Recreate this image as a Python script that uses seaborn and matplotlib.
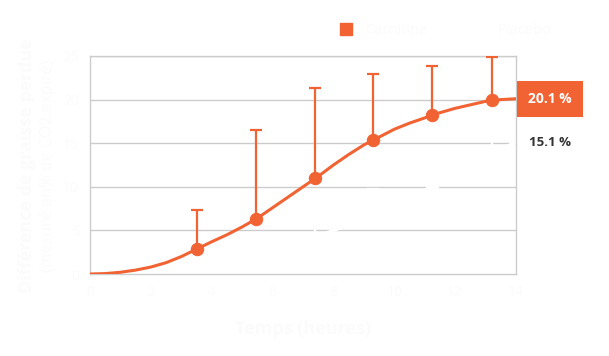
import numpy as np
import pandas as pd
import matplotlib
matplotlib.use("Agg")
import matplotlib.pyplot as plt
from matplotlib.lines import Line2D
import seaborn as sns

# measured points (hours, % CO2)
hours = [3.5, 5.45, 7.4, 9.3, 11.25, 13.2]
carnitine = [2.9, 6.3, 11.0, 15.4, 18.2, 20.0]
carnitine_err = [4.4, 10.2, 10.3, 7.5, 5.7, 4.9]
placebo = [0.9, 2.2, 4.0, 6.6, 10.0, 12.6]
placebo_err = [1.5, 2.5, 3.0, 3.2, 3.0, 3.0]

# fitted curves
curve_hours = [0, 0.5, 1, 1.5, 2, 2.5, 3, 3.5, 4, 4.5, 5, 5.5, 6, 6.5, 7,
               7.5, 8, 8.5, 9, 9.5, 10, 10.5, 11, 11.5, 12, 12.5, 13, 13.5, 14]
carnitine_curve = [0, 0.05, 0.2, 0.45, 0.8, 1.3, 2.0, 2.85, 3.7, 4.5, 5.4, 6.4, 7.6, 8.8, 10.0,
                   11.2, 12.5, 13.7, 14.8, 15.7, 16.6, 17.3, 17.9, 18.5, 19.0, 19.4, 19.8, 20.0, 20.1]
placebo_curve = [0, 0.05, 0.15, 0.25, 0.4, 0.6, 0.8, 0.9, 1.2, 1.5, 1.9, 2.3, 2.8, 3.3, 3.8,
                 4.4, 5.0, 5.6, 6.3, 7.1, 7.9, 8.7, 9.6, 10.6, 11.6, 12.6, 13.5, 14.4, 15.1]

x_ticks = [0, 2, 4, 6, 8, 10, 12, 14]
y_ticks = [0, 5, 10, 15, 20, 25]

orange = "#F26334"
faint = "#fbfbfb"

sns.set_style("white")
plt.rcParams['font.family'] = ['Open Sans', 'DejaVu Sans']

fig = plt.figure(figsize=(6.09, 3.56), dpi=100)
ax = fig.add_axes([0.1478, 0.2303, 0.6995, 0.6124])

curves = pd.DataFrame({'h': curve_hours, 'c': carnitine_curve, 'p': placebo_curve})
pts = pd.DataFrame({'h': hours, 'c': carnitine, 'p': placebo})

for yv in y_ticks[1:]:
    ax.axhline(yv, color="#cccccc", lw=1, zorder=0)

# placebo (white on white)
sns.lineplot(data=curves, x='h', y='p', ax=ax, color="white", lw=2.2, zorder=2)
ax.errorbar(hours, placebo, yerr=[np.zeros(6), placebo_err], fmt='none',
            ecolor="white", elinewidth=1.6, capsize=4, capthick=1.6, zorder=2)
sns.scatterplot(data=pts, x='h', y='p', ax=ax, color="white", s=80,
                edgecolor="white", zorder=3)

# carnitine
ax.errorbar(hours, carnitine, yerr=[np.zeros(6), carnitine_err], fmt='none',
            ecolor=orange, elinewidth=1.6, capsize=4, capthick=1.6, zorder=4)
sns.lineplot(data=curves, x='h', y='c', ax=ax, color=orange, lw=2.2, zorder=4)
sns.scatterplot(data=pts, x='h', y='c', ax=ax, color=orange, s=80,
                edgecolor=orange, zorder=5)

ax.set_xlim(0, 14)
ax.set_ylim(0, 25)
ax.set_xticks(x_ticks)
ax.set_yticks(y_ticks)
ax.tick_params(length=0, labelsize=10, labelcolor=faint, pad=8)
for s in ax.spines.values():
    s.set_color("#cccccc")
    s.set_linewidth(1)

ax.set_xlabel("Temps (heures)", fontsize=13, fontweight='bold', color=faint, labelpad=14)
ax.set_ylabel("")
fig.text(0.045, 0.535, "Différence de graisse perdue", rotation=90, ha='center', va='center',
         fontsize=13, fontweight='bold', color=faint)
fig.text(0.078, 0.535, "(mesuré en% de CO2 expiré)", rotation=90, ha='center', va='center',
         fontsize=11.5, color=faint)

# end labels
ax.annotate("20.1 %", xy=(1.0, carnitine_curve[-1]), xycoords=('axes fraction', 'data'),
            xytext=(34, 0), textcoords='offset pixels', ha='center', va='center',
            fontsize=10, fontweight='bold', color='white', annotation_clip=False,
            bbox=dict(boxstyle='square,pad=0.8', fc=orange, ec='none'))
ax.annotate("15.1 %", xy=(1.0, placebo_curve[-1]), xycoords=('axes fraction', 'data'),
            xytext=(34, 0), textcoords='offset pixels', ha='center', va='center',
            fontsize=9.5, fontweight='bold', color='#333333', annotation_clip=False,
            bbox=dict(boxstyle='square,pad=0.75', fc='white', ec='none'), zorder=6)

handles = [Line2D([], [], marker='s', ls='none', color=orange, markersize=8),
           Line2D([], [], marker='s', ls='none', color='white', markersize=8)]
leg = fig.legend(handles, ["Carnitine", "Placebo"], loc='center', bbox_to_anchor=(0.725, 0.913),
                 ncol=2, frameon=False, fontsize=10.5, handletextpad=0.3, columnspacing=2.5)
for t in leg.get_texts():
    t.set_color(faint)

fig.savefig("out.png", dpi=100)
